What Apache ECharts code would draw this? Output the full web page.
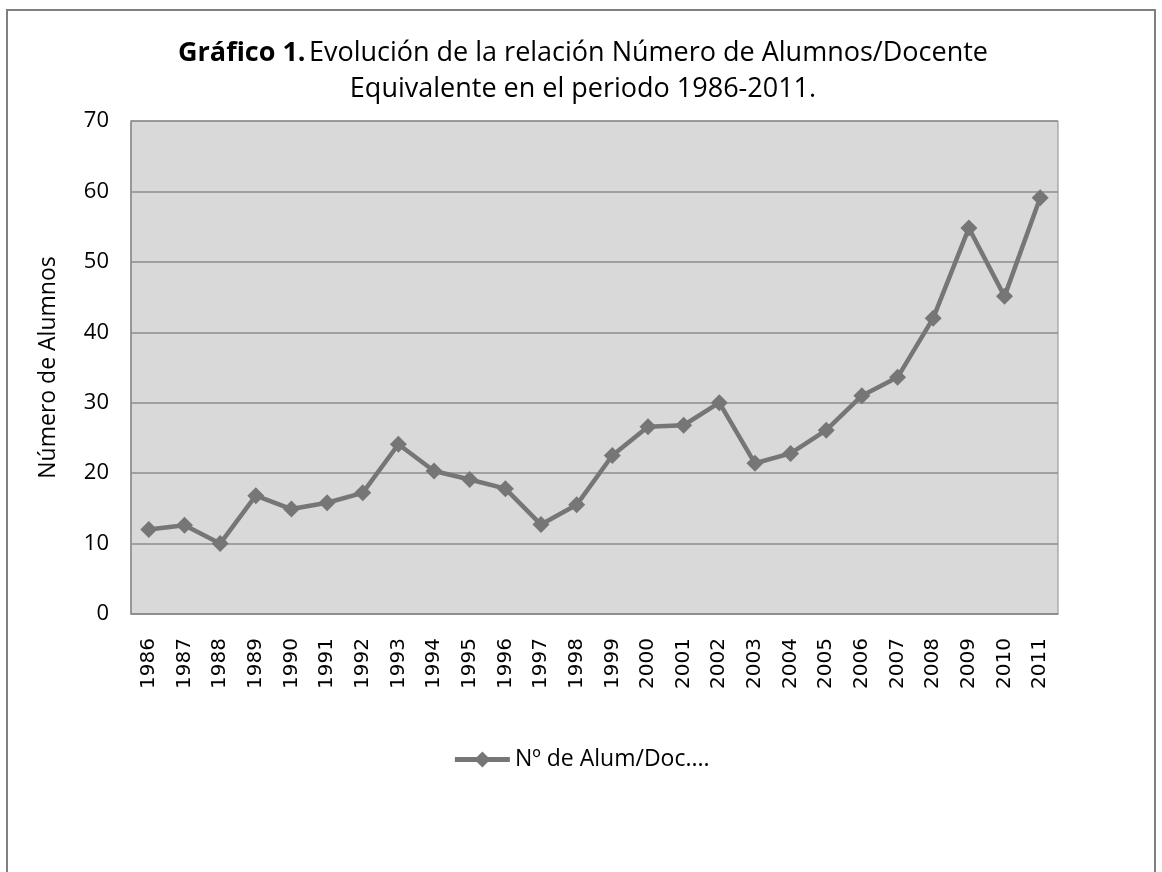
<!DOCTYPE html>
<html>
<head>
<meta charset="utf-8">
<script src="https://cdn.jsdelivr.net/npm/echarts@6/dist/echarts.min.js"></script>
<style>
html,body{margin:0;padding:0;background:#fff;}
#chart{width:1162px;height:872px;}
</style>
</head>
<body>
<div id="chart"></div>
<script>
const years = ['1986','1987','1988','1989','1990','1991','1992','1993','1994','1995','1996','1997','1998','1999','2000','2001','2002','2003','2004','2005','2006','2007','2008','2009','2010','2011'];
const ratio = [12.0,12.6,10.0,16.8,14.9,15.8,17.2,24.1,20.3,19.1,17.8,12.7,15.5,22.5,26.6,26.8,30.0,21.4,22.8,26.1,31.0,33.6,42.0,54.8,45.1,59.1];
const yTicks = [0,10,20,30,40,50,60,70];
const seriesName = 'Nº de Alum/Doc....';
const titleBold = 'Gráfico 1.';
const titleRest = 'Evolución de la relación Número de Alumnos/Docente';
const titleLine2 = 'Equivalente en el periodo 1986-2011.';

const chart = echarts.init(document.getElementById('chart'));
chart.setOption({
  animation: false,
  backgroundColor: '#fff',
  graphic: [{
    type: 'rect',
    shape: {x: 7, y: 10, width: 1148, height: 900},
    style: {fill: 'none', stroke: '#808080', lineWidth: 2},
    silent: true
  }, {
    type: 'text',
    x: 583, y: 35,
    silent: true,
    style: {
      text: '{b|' + titleBold + '} {n|' + titleRest + '}\n{n|' + titleLine2 + '}',
      align: 'center',
      verticalAlign: 'top',
      rich: {
        b: {fontFamily: 'Open Sans', fontWeight: 'bold', fontSize: 27, fill: '#000', lineHeight: 36},
        n: {fontFamily: 'Open Sans', fontWeight: 'normal', fontSize: 27, fill: '#000', lineHeight: 36}
      }
    }
  }],
  legend: {
    top: 743,
    left: 'center',
    itemWidth: 55,
    itemHeight: 20,
    itemGap: 4,
    lineStyle: {width: 5},
    textStyle: {fontFamily: 'Open Sans', fontSize: 23, color: '#000'},
    data: [seriesName]
  },
  grid: {
    left: 131, top: 121, right: 104, bottom: 258,
    show: true,
    backgroundColor: '#d9d9d9',
    borderColor: '#8c8c8c',
    borderWidth: 1
  },
  xAxis: {
    type: 'category',
    data: years,
    boundaryGap: true,
    axisTick: {show: false},
    axisLine: {lineStyle: {color: '#8c8c8c', width: 1.5}},
    axisLabel: {rotate: 90, margin: 24, fontFamily: 'DejaVu Sans', fontSize: 20, color: '#000'}
  },
  yAxis: {
    type: 'value',
    min: 0, max: 70, interval: 10,
    name: 'Número de Alumnos',
    nameLocation: 'middle',
    nameGap: 71,
    nameTextStyle: {fontFamily: 'Open Sans', fontSize: 23, color: '#000'},
    axisLine: {show: true, lineStyle: {color: '#8c8c8c', width: 1.5}},
    axisTick: {show: false},
    axisLabel: {
      margin: 22, fontFamily: 'Open Sans', fontSize: 22, color: '#000',
      formatter: v => yTicks.includes(v) ? String(v) : ''
    },
    splitLine: {lineStyle: {color: '#8c8c8c', width: 1.5}}
  },
  series: [{
    name: seriesName,
    type: 'line',
    data: ratio,
    symbol: 'diamond',
    symbolSize: 17,
    lineStyle: {color: '#767676', width: 4.5},
    itemStyle: {color: '#767676'}
  }]
});
</script>
</body>
</html>
